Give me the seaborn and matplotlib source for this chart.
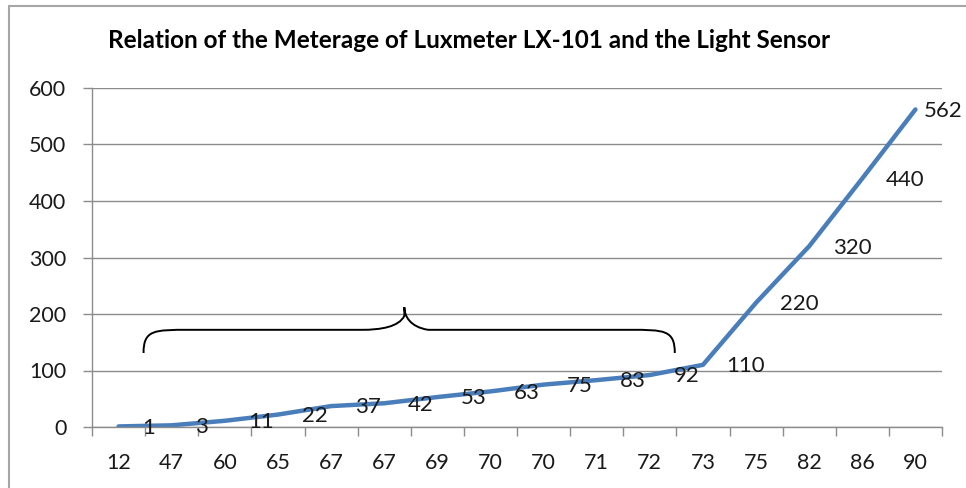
import numpy as np
import pandas as pd
import matplotlib
matplotlib.use('Agg')
import matplotlib.pyplot as plt
import seaborn as sns
from matplotlib.path import Path
from matplotlib.patches import PathPatch
from matplotlib.lines import Line2D
from matplotlib.transforms import offset_copy

# chart data
luxmeter = ['12', '47', '60', '65', '67', '67', '69', '70',
            '70', '71', '72', '73', '75', '82', '86', '90']
sensor = [1, 3, 11, 22, 37, 42, 53, 63, 75, 83, 92, 110, 220, 320, 440, 562]
y_ticks = [0, 100, 200, 300, 400, 500, 600]

df = pd.DataFrame({'pos': np.arange(len(sensor)), 'value': sensor})

sns.set_style('white')
plt.rcParams['font.family'] = ['Lato', 'DejaVu Sans']

fig = plt.figure(figsize=(9.66, 4.88), dpi=100)
ax = fig.add_axes([92 / 966, 61 / 488, 850 / 966, 339 / 488])

sns.lineplot(data=df, x='pos', y='value', color='#4a7ebb', linewidth=3.2,
             sort=False, ax=ax)

# data labels to the right of each point
for i, v in enumerate(sensor):
    dx = 6 if i == len(sensor) - 1 else 17
    tr = offset_copy(ax.transData, fig=fig, x=dx, y=-1, units='points')
    ax.text(i, v, str(v), transform=tr, ha='left', va='center',
            fontsize=16, color='#1a1a1a', clip_on=False)

ax.set_xlim(-0.5, len(sensor) - 0.5)
ax.set_ylim(0, 600)
ax.set_yticks(y_ticks)
ax.set_xticks(np.arange(len(sensor)))
ax.set_xticklabels(luxmeter)
ax.set_xticks(np.arange(-0.5, len(sensor)), minor=True)
ax.set_xlabel('')
ax.set_ylabel('')
ax.yaxis.grid(True, color='#8c8c8c', linewidth=1)
ax.xaxis.grid(False)
for s in ['top', 'right']:
    ax.spines[s].set_visible(False)
for s in ['left', 'bottom']:
    ax.spines[s].set_color('#8c8c8c')
    ax.spines[s].set_linewidth(1)
ax.tick_params(axis='x', which='major', length=0, pad=19, labelsize=15.5,
               labelcolor='#1a1a1a')
ax.tick_params(axis='x', which='minor', bottom=True, length=6.5,
               color='#8c8c8c', width=1)
ax.tick_params(axis='y', which='major', left=True, length=6.5, width=1,
               color='#8c8c8c', pad=12, labelsize=15.5, labelcolor='#1a1a1a')

# curly brace over the first part of the curve
xl, xm, xr = 0.47, 5.38, 10.47
yb, yh, yt = 131, 172, 212
verts = [(xl, yb), (xl, yh), (xl + 0.2, yh), (xl + 0.85, yh),
         (xm - 0.8, yh), (xm - 0.8, yh), (xm - 0.45, yh),
         (xm - 0.1, yh + 5), (xm, yt - 15), (xm, yt),
         (xm, yt - 15), (xm + 0.1, yh + 5), (xm + 0.45, yh),
         (xr - 0.85, yh), (xr - 0.2, yh), (xr, yh), (xr, yb)]
codes = [Path.MOVETO, Path.CURVE4, Path.CURVE4, Path.CURVE4,
         Path.LINETO, Path.LINETO, Path.CURVE4, Path.CURVE4, Path.CURVE4,
         Path.LINETO, Path.CURVE4, Path.CURVE4, Path.CURVE4,
         Path.LINETO, Path.CURVE4, Path.CURVE4, Path.CURVE4]
ax.add_patch(PathPatch(Path(verts, codes), facecolor='none',
                       edgecolor='black', linewidth=1.4, clip_on=False))

fig.text(469 / 966, 1 - 40 / 488,
         'Relation of the Meterage of Luxmeter LX-101 and the Light Sensor',
         ha='center', va='center', fontsize=17.5, fontweight='bold',
         color='black')

# chart area border (left and top edges visible)
fig.add_artist(Line2D([9 / 966, 9 / 966], [0, 1 - 6 / 488],
                      transform=fig.transFigure, color='#a6a6a6', linewidth=1.5))
fig.add_artist(Line2D([9 / 966, 1], [1 - 6 / 488, 1 - 6 / 488],
                      transform=fig.transFigure, color='#a6a6a6', linewidth=1.5))

fig.savefig('out.png', dpi=100)
